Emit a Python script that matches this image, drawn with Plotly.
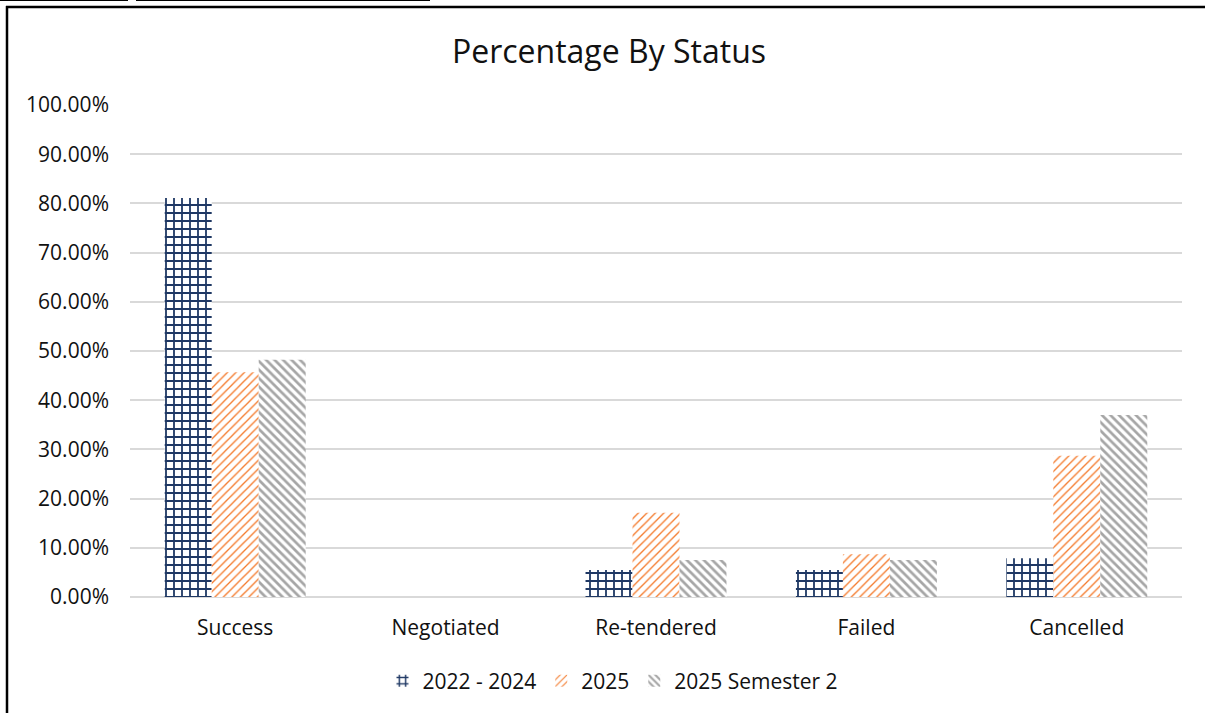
import plotly.graph_objects as go

categories = ["Success", "Negotiated", "Re-tendered", "Failed", "Cancelled"]
series_names = ["2022 - 2024", "2025", "2025 Semester 2"]
vals_2022_2024 = [0.811, 0.0, 0.055, 0.055, 0.079]
vals_2025 = [0.457, 0.0, 0.171, 0.087, 0.287]
vals_2025_s2 = [0.482, 0.0, 0.075, 0.075, 0.370]
y_ticks = [i / 10 for i in range(11)]

styles = [
    dict(fg="#1f3864", shape="+", size=8, solidity=0.4),
    dict(fg="#f4792a", shape="/", size=6, solidity=0.22),
    dict(fg="#a6a6a6", shape="\\", size=6, solidity=0.45),
]

fig = go.Figure()
for name, vals, st in zip(series_names, [vals_2022_2024, vals_2025, vals_2025_s2], styles):
    fig.add_trace(go.Bar(
        x=categories, y=vals, name=name,
        marker=dict(
            color=st["fg"],
            line=dict(width=0),
            pattern=dict(shape=st["shape"], fgcolor=st["fg"], bgcolor="white", fgopacity=1,
                         size=st["size"], solidity=st["solidity"], fillmode="replace"),
        ),
    ))

font_family = "'Open Sans', sans-serif"
W, H = 1205, 713
L, R, T, B = 130, 23, 105, 116
PW, PH = W - L - R, H - T - B


def px_x(x):
    return (x - L) / PW


def px_y(y):
    return (H - B - y) / PH


fig.update_layout(
    width=W, height=H,
    paper_bgcolor="white", plot_bgcolor="white",
    margin=dict(l=L, r=R, t=T, b=B),
    barmode="group", bargap=0.33, bargroupgap=0,
    title=dict(text="Percentage By Status", x=609 / W, xanchor="center", y=1 - 52 / H, yanchor="middle",
               font=dict(family=font_family, size=32, color="#111111")),
    font=dict(family=font_family, size=21, color="#111111"),
    showlegend=True,
    legend=dict(orientation="h", x=px_x(613), xanchor="center", y=px_y(681), yanchor="middle",
                font=dict(size=21, color="#111111"), traceorder="normal"),
    xaxis=dict(showgrid=False, showline=False, ticks="", tickfont=dict(size=21),
               ticklabelstandoff=16),
    yaxis=dict(range=[0, 1.0], tickvals=y_ticks, tickformat=".2%", showgrid=True,
               gridcolor="#d9d9d9", gridwidth=1.5, zeroline=True, zerolinecolor="#d9d9d9",
               zerolinewidth=1.5, showline=False, ticks="", ticklabelstandoff=20,
               tickfont=dict(size=21)),
    shapes=[
        dict(type="line", xref="paper", yref="paper", x0=px_x(6), x1=px_x(1205),
             y0=px_y(7), y1=px_y(7), line=dict(color="black", width=2.5)),
        dict(type="line", xref="paper", yref="paper", x0=px_x(7), x1=px_x(7),
             y0=px_y(713), y1=px_y(6), line=dict(color="black", width=2.5)),
        dict(type="line", xref="paper", yref="paper", x0=px_x(0), x1=px_x(128),
             y0=px_y(0.5), y1=px_y(0.5), line=dict(color="black", width=1.2)),
        dict(type="line", xref="paper", yref="paper", x0=px_x(136), x1=px_x(430),
             y0=px_y(0.5), y1=px_y(0.5), line=dict(color="black", width=1.2)),
    ],
)

fig.write_html("out.html", config={"displayModeBar": False},
               post_script="document.body.style.margin='0px';")
